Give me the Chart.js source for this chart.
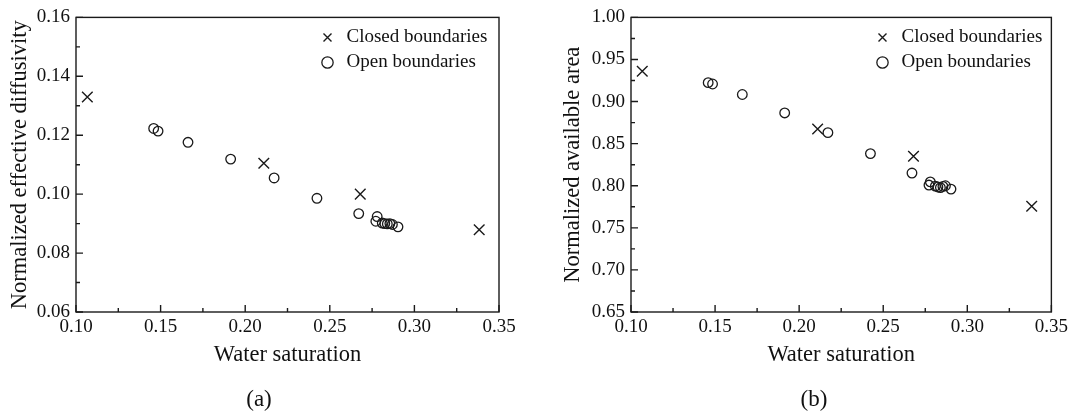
<!DOCTYPE html>
<html><head><meta charset="utf-8">
<script src="https://cdn.jsdelivr.net/npm/chart.js@4.4.1/dist/chart.umd.min.js"></script>
<style>
html,body{margin:0;padding:0;background:#fff;}
#wrap{position:relative;width:1072px;height:418px;overflow:hidden;background:#fff;}
canvas{position:absolute;top:0;}
.lab{position:absolute;font-family:'Liberation Serif','Times New Roman',serif;font-size:23px;color:#111;transform:translateX(-50%);line-height:1;white-space:nowrap;}
</style></head><body>
<div id="wrap">
<canvas id="ca" width="536" height="418" style="left:0"></canvas>
<canvas id="cb" width="536" height="418" style="left:536px"></canvas>
<div class="lab" style="left:259px;top:387px">(a)</div>
<div class="lab" style="left:814px;top:387px">(b)</div>
</div>
<script>
// ---- tick labels ----
const xTicks  = [0.10, 0.15, 0.20, 0.25, 0.30, 0.35];
const yTicksA = [0.06, 0.08, 0.10, 0.12, 0.14, 0.16];
const yTicksB = [0.65, 0.70, 0.75, 0.80, 0.85, 0.90, 0.95, 1.00];

// ---- series: closed boundaries ----
const closedSw          = [0.1067, 0.2110, 0.2680, 0.3383];
const closedDiffusivity = [0.1330, 0.1105, 0.1000, 0.0879];
const closedArea        = [0.9360, 0.8674, 0.8350, 0.7757];

// ---- series: open boundaries ----
const openSw          = [0.1459, 0.1485, 0.1662, 0.1914, 0.2171, 0.2424, 0.2671, 0.2780, 0.2772, 0.2810, 0.2825, 0.2840, 0.2855, 0.2870, 0.2903];
const openDiffusivity = [0.1223, 0.1214, 0.1176, 0.1119, 0.1055, 0.0986, 0.0934, 0.0924, 0.0908, 0.0902, 0.0900, 0.0899, 0.0900, 0.0897, 0.0889];
const openArea        = [0.9225, 0.9209, 0.9084, 0.8865, 0.8631, 0.8382, 0.8151, 0.8046, 0.8008, 0.7995, 0.7985, 0.7978, 0.7992, 0.8000, 0.7960];

const seriesNames = ['Closed boundaries', 'Open boundaries'];

Chart.defaults.font.family = "'Liberation Serif','Times New Roman',serif";
Chart.defaults.color = '#111';

const INK = '#1a1a1a';

const frameTicks = {
  id: 'frameTicks',
  beforeDatasetsDraw(chart) {
    const {ctx, chartArea: a, scales: {x, y}} = chart;
    ctx.save();
    ctx.strokeStyle = INK;
    ctx.lineWidth = 1.4;
    ctx.strokeRect(a.left, a.top, a.right - a.left, a.bottom - a.top);
    const major = 7, minor = 4;
    ctx.beginPath();
    const xt = x.ticks.map(t => t.value);
    xt.forEach((v, i) => {
      const p = x.getPixelForValue(v);
      ctx.moveTo(p, a.bottom); ctx.lineTo(p, a.bottom - major);
      if (i < xt.length - 1) {
        const m = x.getPixelForValue((v + xt[i + 1]) / 2);
        ctx.moveTo(m, a.bottom); ctx.lineTo(m, a.bottom - minor);
      }
    });
    const yt = y.ticks.map(t => t.value);
    yt.forEach((v, i) => {
      const p = y.getPixelForValue(v);
      ctx.moveTo(a.left, p); ctx.lineTo(a.left + major, p);
      if (i < yt.length - 1) {
        const m = y.getPixelForValue((v + yt[i + 1]) / 2);
        ctx.moveTo(a.left, m); ctx.lineTo(a.left + minor, m);
      }
    });
    ctx.stroke();
    ctx.restore();
  }
};

const legendPlace = {
  id: 'legendPlace',
  afterLayout(chart, args, opts) {
    const lg = chart.legend;
    if (!lg) return;
    const w = lg.width, h = lg.height;
    lg.left = chart.chartArea.left + opts.dx;
    lg.right = lg.left + w;
    lg.top = opts.dy;
    lg.bottom = lg.top + h;
  }
};

function makeChart(id, yTicks, yTitle, closedY, openY, yWidth, rightPad, titlePad) {
  const ymin = yTicks[0], ymax = yTicks[yTicks.length - 1];
  return new Chart(document.getElementById(id), {
    type: 'scatter',
    data: {
      datasets: [
        {
          label: seriesNames[0],
          data: closedSw.map((v, i) => ({x: v, y: closedY[i]})),
          pointStyle: 'crossRot',
          pointRadius: 7.5,
          pointBorderWidth: 1.4,
          pointBorderColor: INK,
          pointBackgroundColor: 'rgba(0,0,0,0)',
          borderColor: INK,
          backgroundColor: 'rgba(0,0,0,0)'
        },
        {
          label: seriesNames[1],
          data: openSw.map((v, i) => ({x: v, y: openY[i]})),
          pointStyle: 'circle',
          pointRadius: 4.8,
          pointBorderWidth: 1.3,
          pointBorderColor: INK,
          pointBackgroundColor: 'rgba(0,0,0,0)',
          borderColor: INK,
          backgroundColor: 'rgba(0,0,0,0)'
        }
      ]
    },
    options: {
      responsive: false,
      animation: false,
      devicePixelRatio: 1,
      layout: {padding: {left: 0, top: 13, right: rightPad, bottom: 0}},
      plugins: {
        tooltip: {enabled: false},
        legend: {
          position: 'chartArea',
          align: 'start',
          labels: {
            usePointStyle: true,
            boxHeight: 8,
            padding: 6,
            color: '#111',
            font: {size: 19}
          }
        },
        legendPlace: {dx: 236, dy: 22}
      },
      scales: {
        x: {
          type: 'linear',
          min: xTicks[0], max: xTicks[xTicks.length - 1],
          afterBuildTicks(s) { s.ticks = xTicks.map(v => ({value: v})); },
          afterFit(s) { s.height = 106; },
          grid: {display: false, drawTicks: false},
          border: {display: false},
          ticks: {padding: 4, font: {size: 19}, color: '#111', maxRotation: 0, autoSkip: false,
                  callback: v => Number(v).toFixed(2)},
          title: {display: true, text: 'Water saturation', font: {size: 22.5}, color: '#111',
                  padding: {top: 0, bottom: 49}}
        },
        y: {
          type: 'linear',
          min: ymin, max: ymax,
          afterBuildTicks(s) { s.ticks = yTicks.map(v => ({value: v})); },
          afterFit(s) { s.width = yWidth; },
          grid: {display: false, drawTicks: false},
          border: {display: false},
          ticks: {padding: 6, font: {size: 19}, color: '#111', autoSkip: false,
                  callback: v => Number(v).toFixed(2)},
          title: {display: true, text: yTitle, font: {size: 22.5}, color: '#111',
                  padding: {top: titlePad, bottom: 0}}
        }
      }
    },
    plugins: [frameTicks, legendPlace]
  });
}

makeChart('ca', yTicksA, 'Normalized effective diffusivity', closedDiffusivity, openDiffusivity, 76, 37, 7);
makeChart('cb', yTicksB, 'Normalized available area', closedArea, openArea, 95, 19, 24);
</script>
</body></html>
